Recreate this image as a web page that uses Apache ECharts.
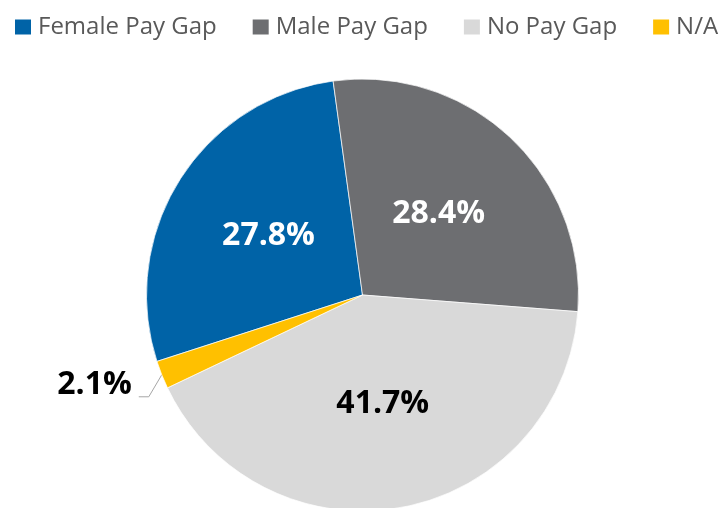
<!DOCTYPE html>
<html>
<head>
<meta charset="utf-8">
<script src="https://cdn.jsdelivr.net/npm/echarts@6/dist/echarts.min.js"></script>
<style>
html,body{margin:0;padding:0;background:#fff;}
#chart{width:722px;height:508px;}
</style>
</head>
<body>
<div id="chart"></div>
<script>
const categories = ['Female Pay Gap', 'Male Pay Gap', 'No Pay Gap', 'N/A'];
const values = [27.8, 28.4, 41.7, 2.1];

const sliceColors = ['#0063A7', '#6D6E71', '#D9D9D9', '#FFC000'];
const labelColors = ['#FFFFFF', '#FFFFFF', '#000000', '#000000'];
const FONT = '"Open Sans", "DejaVu Sans", sans-serif';

const chart = echarts.init(document.getElementById('chart'), null, {renderer: 'canvas'});

const data = categories.map((name, i) => {
  const outside = i === 3;
  return {
    name: name,
    value: values[i],
    itemStyle: {color: sliceColors[i]},
    label: {
      show: true,
      position: outside ? 'outside' : 'inside',
      color: labelColors[i],
      fontSize: 32,
      fontWeight: 'bold',
      fontFamily: FONT
    },
    labelLine: {
      show: outside,
      length: 10,
      length2: 10,
      lineStyle: {color: '#A6A6A6', width: 1}
    }
  };
});

chart.setOption({
  animation: false,
  backgroundColor: '#ffffff',
  legend: {
    data: categories,
    left: 15,
    top: 15,
    padding: 0,
    width: 2000,
    itemWidth: 16,
    itemHeight: 15,
    itemGap: 36,
    icon: 'rect',
    selectedMode: false,
    itemStyle: {borderWidth: 0},
    textStyle: {
      color: '#595959',
      fontSize: 24,
      fontFamily: FONT,
      padding: [0, 0, 0, 2]
    }
  },
  series: [{
    type: 'pie',
    center: [362.5, 295],
    radius: [0, 216],
    startAngle: 197.9,
    clockwise: true,
    avoidLabelOverlap: false,
    itemStyle: {borderColor: '#ffffff', borderWidth: 0.7},
    label: {
      formatter: function (p) { return p.value.toFixed(1) + '%'; }
    },
    labelLayout: function (p) {
      if (p.dataIndex !== 3 || !p.labelLinePoints) return {};
      const s = p.labelLinePoints[0];
      return {
        x: s[0] - 30,
        y: s[1] + 10,
        align: 'right',
        verticalAlign: 'middle',
        labelLinePoints: [
          [s[0], s[1]],
          [s[0] - 13, s[1] + 22],
          [s[0] - 23, s[1] + 22]
        ]
      };
    },
    data: data
  }]
});
</script>
</body>
</html>
